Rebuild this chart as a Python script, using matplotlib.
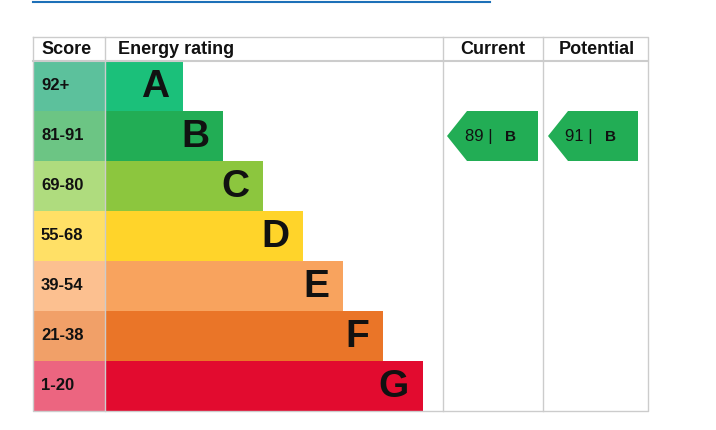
import matplotlib
matplotlib.use("Agg")
import matplotlib.pyplot as plt
from matplotlib.patches import Rectangle, Polygon

scores = ["92+", "81-91", "69-80", "55-68", "39-54", "21-38", "1-20"]
letters = ["A", "B", "C", "D", "E", "F", "G"]
bar_colors = ["#1bc07a", "#22ad55", "#8cc63e", "#ffd42a", "#f8a35e", "#ea7528", "#e20b2f"]
score_colors = ["#5cc19c", "#6cc584", "#afdc7e", "#ffe066", "#fcc090", "#f1a068", "#ec6580"]
current_value, current_band = 89, "B"
potential_value, potential_band = 91, "B"

plt.rcParams['font.family'] = ['Liberation Sans', 'DejaVu Sans']
fig = plt.figure(figsize=(7.16, 4.3), dpi=100)
ax = fig.add_axes([0, 0, 1, 1])
ax.set_xlim(0, 716); ax.set_ylim(430, 0); ax.axis("off")

L, R, T, HB = 33, 648, 37, 61
SC, C1, C2 = 105, 443, 543
RH = 50
grey = "#cccccc"

# link underline at top
ax.plot([33, 490], [2, 2], color="#1d70b8", lw=1.5)

# table frame
bottom = HB + RH * len(letters)
ax.plot([L, R, R, L, L], [T, T, bottom, bottom, T], color=grey, lw=1)
ax.plot([L, R], [HB, HB], color=grey, lw=1.5)
for x in (SC, C1, C2):
    ax.plot([x, x], [T, bottom], color=grey, lw=1)

hdr = dict(fontsize=13, fontweight="bold", va="center", color="#111")
ax.text(41, 49.5, "Score", ha="left", **hdr)
ax.text(118, 49.5, "Energy rating", ha="left", **hdr)
ax.text(493, 49.5, "Current", ha="center", **hdr)
ax.text(597, 49.5, "Potential", ha="center", **hdr)

for i, (s, l, bc, sc) in enumerate(zip(scores, letters, bar_colors, score_colors)):
    y0 = HB + i * RH
    w = 78 + 40 * i
    ax.add_patch(Rectangle((L, y0), SC - L, RH, color=sc, lw=0))
    ax.add_patch(Rectangle((SC, y0), w, RH, color=bc, lw=0))
    ax.text(41, y0 + RH / 2, s, ha="left", va="center", fontsize=12, fontweight="bold", color="#111")
    ax.text(SC + w - 14, y0 + RH / 2 + 1, l, ha="right", va="center", fontsize=28, fontweight="bold", color="#111")

def arrow(x0, x1, band, value):
    i = letters.index(band)
    y0 = HB + i * RH
    col = bar_colors[i]
    ax.add_patch(Polygon([(x0, y0 + RH / 2), (x0 + 20, y0), (x1, y0), (x1, y0 + RH), (x0 + 20, y0 + RH)],
                         closed=True, color=col, lw=0))
    cx = (x0 + x1) / 2 + 6
    ax.text(cx - 6, y0 + RH / 2, f"{value} |", ha="right", va="center", fontsize=12, color="#111")
    ax.text(cx + 6, y0 + RH / 2 + 1, band, ha="left", va="center", fontsize=11, fontweight="bold", color="#111")

arrow(447, 538, current_band, current_value)
arrow(548, 638, potential_band, potential_value)

fig.savefig("out.png", dpi=100)
